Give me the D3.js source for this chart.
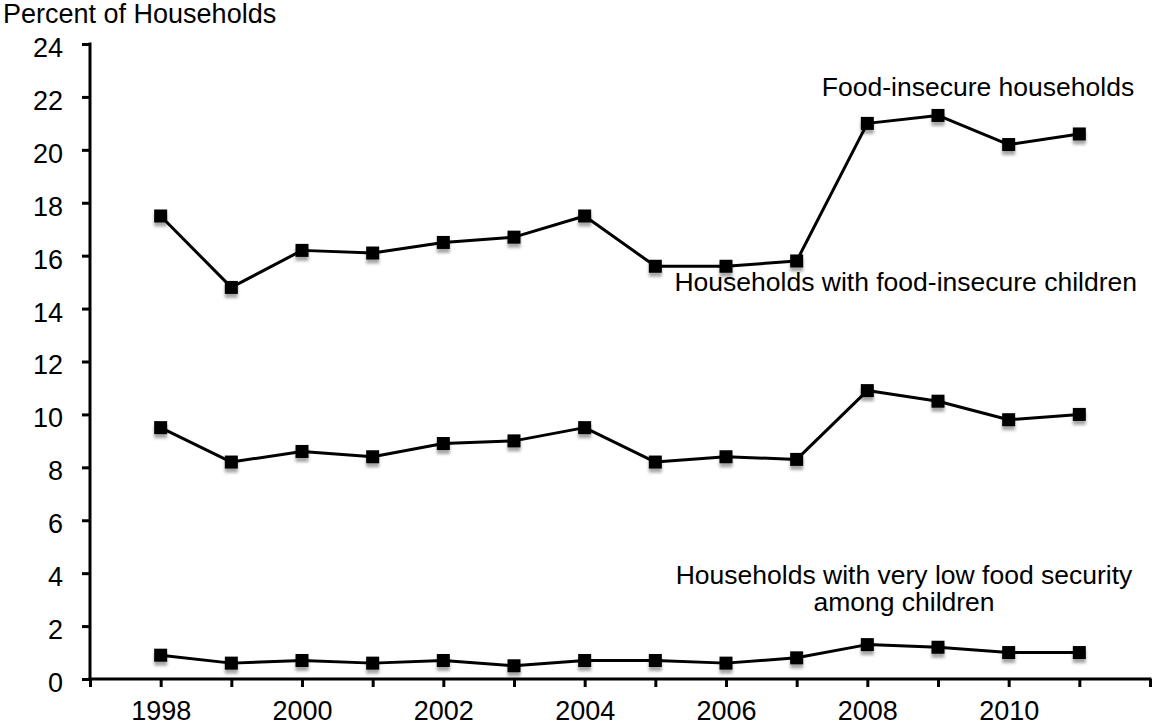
<!DOCTYPE html>
<html>
<head>
<meta charset="utf-8">
<script src="https://cdn.jsdelivr.net/npm/d3@7"></script>
<style>
  body { margin: 0; background: #fff; }
  svg text { font-family: "Liberation Sans", Arial, sans-serif; fill: #000; }
</style>
</head>
<body>
<svg id="chart" width="1155" height="726"></svg>
<script>
// data
var years = [1998, 1999, 2000, 2001, 2002, 2003, 2004, 2005, 2006, 2007, 2008, 2009, 2010, 2011];
var foodInsecure = [17.5, 14.8, 16.2, 16.1, 16.5, 16.7, 17.5, 15.6, 15.6, 15.8, 21.0, 21.3, 20.2, 20.6];
var insecureChildren = [9.5, 8.2, 8.6, 8.4, 8.9, 9.0, 9.5, 8.2, 8.4, 8.3, 10.9, 10.5, 9.8, 10.0];
var veryLowChildren = [0.9, 0.6, 0.7, 0.6, 0.7, 0.5, 0.7, 0.7, 0.6, 0.8, 1.3, 1.2, 1.0, 1.0];
var yTicks = [0, 2, 4, 6, 8, 10, 12, 14, 16, 18, 20, 22, 24];
var xTicks = d3.range(1997, 2013);
var xLabels = [1998, 2000, 2002, 2004, 2006, 2008, 2010];

var svg = d3.select("#chart");

var defs = svg.append("defs");
var f = defs.append("filter").attr("id", "shadow")
  .attr("x", "-50%").attr("y", "-50%").attr("width", "200%").attr("height", "220%");
f.append("feDropShadow")
  .attr("dx", 0).attr("dy", 4).attr("stdDeviation", 1.8)
  .attr("flood-color", "#000").attr("flood-opacity", 0.35);

var xScale = d3.scaleLinear().domain([1997, 2012]).range([90, 1150]);
var yScale = d3.scaleLinear().domain([0, 24]).range([679, 44]);

// y axis
var yAxis = d3.axisLeft(yScale)
  .tickValues(yTicks)
  .tickSize(8)
  .tickPadding(19)
  .tickFormat(function(d) { return d; });

var gy = svg.append("g")
  .attr("transform", "translate(90,0)")
  .call(yAxis);
gy.select(".domain").attr("stroke", "#000").attr("stroke-width", 3)
  .attr("d", "M0," + (yScale(24) - 1.5) + "V" + (yScale(0)));
gy.selectAll(".tick line").attr("stroke", "#000").attr("stroke-width", 3);
gy.selectAll(".tick text").style("font-size", "27px").attr("dy", "0.46em");

// x axis
var xAxis = d3.axisBottom(xScale)
  .tickValues(xTicks)
  .tickSize(8)
  .tickPadding(14)
  .tickFormat(function(d) { return xLabels.indexOf(d) >= 0 ? d : ""; });

var gx = svg.append("g")
  .attr("transform", "translate(0,679)")
  .call(xAxis);
gx.select(".domain").attr("stroke", "#000").attr("stroke-width", 3)
  .attr("d", "M" + (xScale(1997) - 1.5) + ",0H" + (xScale(2012) + 1.5));
gx.selectAll(".tick line").attr("stroke", "#000").attr("stroke-width", 3);
gx.selectAll(".tick text").style("font-size", "27px").attr("dy", "0.71em");

// axis title
svg.append("text")
  .attr("x", 3).attr("y", 23)
  .style("font-size", "27px")
  .text("Percent of Households");

// series
var series = [foodInsecure, insecureChildren, veryLowChildren];

var line = d3.line()
  .x(function(d, i) { return xScale(years[i]); })
  .y(function(d) { return yScale(d); });

series.forEach(function(vals) {
  svg.append("path")
    .datum(vals)
    .attr("d", line)
    .attr("fill", "none")
    .attr("stroke", "#000")
    .attr("stroke-width", 3)
    .attr("stroke-linejoin", "round");

  svg.append("g")
    .attr("filter", "url(#shadow)")
    .selectAll("rect")
    .data(vals)
    .enter()
    .append("rect")
    .attr("x", function(d, i) { return xScale(years[i]) - 6.5; })
    .attr("y", function(d) { return yScale(d) - 6.5; })
    .attr("width", 13)
    .attr("height", 13)
    .attr("fill", "#000");
});

// series labels
svg.append("text")
  .attr("x", 978).attr("y", 96)
  .attr("text-anchor", "middle")
  .style("font-size", "26.5px")
  .text("Food-insecure households");

svg.append("text")
  .attr("x", 1137).attr("y", 291)
  .attr("text-anchor", "end")
  .style("font-size", "26.5px")
  .text("Households with food-insecure children");

var lowLabel = svg.append("text")
  .attr("text-anchor", "middle")
  .style("font-size", "26.5px");
lowLabel.append("tspan").attr("x", 904).attr("y", 584)
  .text("Households with very low food security");
lowLabel.append("tspan").attr("x", 904).attr("y", 611)
  .text("among children");
</script>
</body>
</html>
